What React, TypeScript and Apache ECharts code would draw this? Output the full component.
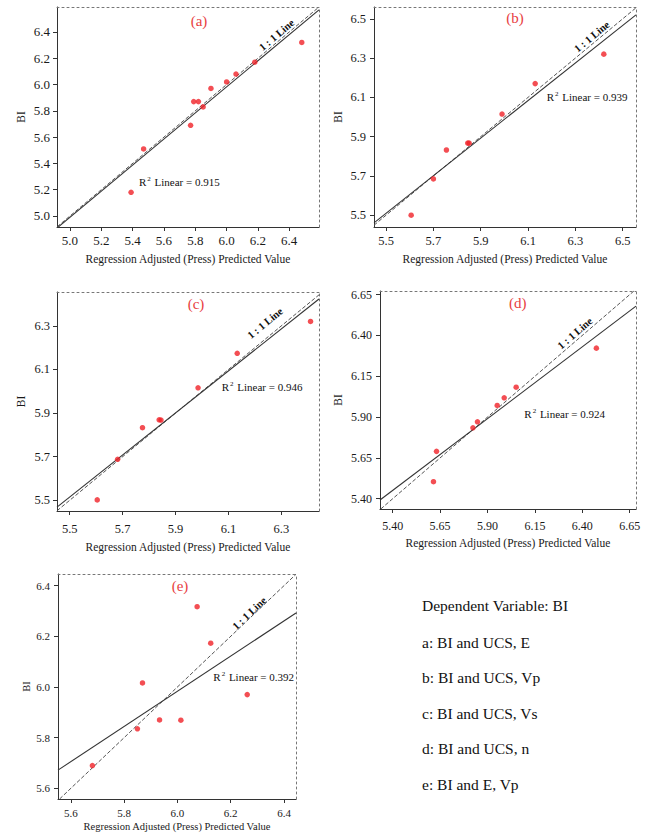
import React, { useEffect, useRef } from "react";
import * as echarts from "echarts";

// ---------- data ----------
const panelLetters = ["(a)", "(b)", "(c)", "(d)", "(e)"];
const r2Values = ["0.915", "0.939", "0.946", "0.924", "0.392"];

const aPredicted = [6.48, 6.18, 6.06, 6.0, 5.9, 5.79, 5.82, 5.85, 5.77, 5.47, 5.39];
const aBI = [6.32, 6.17, 6.08, 6.02, 5.97, 5.87, 5.87, 5.83, 5.69, 5.51, 5.18];
const bPredicted = [6.42, 6.13, 5.99, 5.845, 5.851, 5.755, 5.7, 5.606];
const bBI = [6.32, 6.17, 6.015, 5.867, 5.867, 5.832, 5.685, 5.5];
const cPredicted = [6.41, 6.133, 5.985, 5.838, 5.845, 5.775, 5.681, 5.604];
const cBI = [6.32, 6.174, 6.016, 5.869, 5.868, 5.833, 5.688, 5.502];
const dPredicted = [6.474, 6.051, 5.988, 5.951, 5.847, 5.823, 5.631, 5.615];
const dBI = [6.322, 6.083, 6.018, 5.971, 5.871, 5.834, 5.69, 5.504];
const ePredicted = [6.074, 6.125, 5.869, 6.262, 5.933, 6.013, 5.85, 5.681];
const eBI = [6.317, 6.173, 6.016, 5.97, 5.87, 5.869, 5.835, 5.69];

// fitted (R² linear) line end points [x, y]
const aFit = [[4.92, 4.911], [6.59, 6.568]];
const bFit = [[5.449, 5.461], [6.556, 6.52]];
const cFit = [[5.452, 5.469], [6.442, 6.423]];
const dFit = [[5.333, 5.392], [6.683, 6.579]];
const eFit = [[5.552, 5.672], [6.445, 6.292]];

// axis ranges [xmin, xmax, ymin, ymax]
const aRange = [4.917, 6.59, 4.916, 6.59];
const bRange = [5.449, 6.556, 5.44, 6.56];
const cRange = [5.452, 6.442, 5.451, 6.455];
const dRange = [5.333, 6.683, 5.337, 6.672];
const eRange = [5.552, 6.445, 5.558, 6.446];

// tick labels
const aTicks = [5.0, 5.2, 5.4, 5.6, 5.8, 6.0, 6.2, 6.4];
const bTicks = [5.5, 5.7, 5.9, 6.1, 6.3, 6.5];
const cTicks = [5.5, 5.7, 5.9, 6.1, 6.3];
const dTicks = [5.4, 5.65, 5.9, 6.15, 6.4, 6.65];
const eTicks = [5.6, 5.8, 6.0, 6.2, 6.4];
const tickDecimals = [1, 1, 1, 2, 1];

const legendLines = [
  "Dependent Variable: BI",
  "a: BI and UCS, E",
  "b: BI and UCS, Vp",
  "c: BI and UCS, Vs",
  "d: BI and UCS, n",
  "e: BI and E, Vp",
];

const xTitle = "Regression Adjusted (Press) Predicted Value";
const yTitle = "BI";
const oneToOne = "1 : 1 Line";

// ---------- layout (pixels) ----------
const FONT = '"Liberation Serif", "Times New Roman", Times, serif';
const layout = [
  { left: 57, top: 7, width: 262, height: 220, tickFont: 13, titleFont: 11.5, xLabMargin: 7, yLabMargin: 7, xNameGap: 26, yNameGap: 30,
    letter: [199, 21], line: [276.7, 35, 40], r2: [139, 182] },
  { left: 374, top: 7, width: 262, height: 220, tickFont: 12.5, titleFont: 11.5, xLabMargin: 7.5, yLabMargin: 8, xNameGap: 26, yNameGap: 30,
    letter: [515, 18.3], line: [591.7, 36.7, 39.6], r2: [546.7, 96.7] },
  { left: 57, top: 292, width: 262, height: 219, tickFont: 12.5, titleFont: 11.5, xLabMargin: 11, yLabMargin: 7, xNameGap: 29.5, yNameGap: 30,
    letter: [196, 304], line: [265, 323.3, 39.3], r2: [221.7, 386.7] },
  { left: 380, top: 291, width: 256, height: 218, tickFont: 12, titleFont: 11.5, xLabMargin: 11, yLabMargin: 8, xNameGap: 28, yNameGap: 36,
    letter: [517.7, 303.3], line: [575, 333.3, 40.8], r2: [524.3, 414.3] },
  { left: 58, top: 574, width: 238, height: 225, tickFont: 11, titleFont: 10.5, xLabMargin: 8, yLabMargin: 8, xNameGap: 22, yNameGap: 24,
    letter: [180, 586], line: [249.3, 613.3, 43.5], r2: [213.3, 677.3] },
];

const predictedAll = [aPredicted, bPredicted, cPredicted, dPredicted, ePredicted];
const biAll = [aBI, bBI, cBI, dBI, eBI];
const fitAll = [aFit, bFit, cFit, dFit, eFit];
const rangeAll = [aRange, bRange, cRange, dRange, eRange];
const ticksAll = [aTicks, bTicks, cTicks, dTicks, eTicks];

function buildOption() {
  const grid: any[] = [];
  const xAxis: any[] = [];
  const yAxis: any[] = [];
  const series: any[] = [];
  const graphic: any[] = [];

  layout.forEach((L, i) => {
    const [xmin, xmax, ymin, ymax] = rangeAll[i];
    const ticks = ticksAll[i];
    const dec = tickDecimals[i];
    grid.push({ left: L.left, top: L.top, width: L.width, height: L.height, containLabel: false });

    const mainAxisCommon = (axisMin: number, axisMax: number) => ({
      type: "value",
      min: axisMin,
      max: axisMax,
      gridIndex: i,
      splitLine: { show: false },
      axisLine: { show: true, onZero: false, lineStyle: { color: "#333", width: 1 } },
      axisTick: { show: true, length: 4, inside: false, customValues: ticks, lineStyle: { color: "#333" } },
      axisLabel: {
        show: true,
        customValues: ticks,
        formatter: (v: number) => v.toFixed(dec),
        color: "#1a1a1a",
        fontFamily: FONT,
        fontSize: L.tickFont,
      },
      nameLocation: "middle",
      nameTextStyle: { fontFamily: FONT, fontSize: L.titleFont, color: "#1a1a1a" },
    });

    const bx = mainAxisCommon(xmin, xmax) as any;
    bx.position = "bottom";
    bx.name = xTitle;
    bx.nameGap = L.xNameGap;
    bx.axisLabel.margin = L.xLabMargin;
    xAxis.push(bx);
    xAxis.push({
      type: "value", gridIndex: i, min: xmin, max: xmax, position: "top",
      axisLine: { show: true, onZero: false, lineStyle: { color: "#777", width: 1, type: [2, 3] } },
      axisTick: { show: false }, axisLabel: { show: false }, splitLine: { show: false },
    });

    const ly = mainAxisCommon(ymin, ymax) as any;
    ly.position = "left";
    ly.name = yTitle;
    ly.nameGap = L.yNameGap;
    ly.axisLabel.margin = L.yLabMargin;
    yAxis.push(ly);
    yAxis.push({
      type: "value", gridIndex: i, min: ymin, max: ymax, position: "right",
      axisLine: { show: true, onZero: false, lineStyle: { color: "#777", width: 1, type: [2, 3] } },
      axisTick: { show: false }, axisLabel: { show: false }, splitLine: { show: false },
    });

    const lo = Math.max(xmin, ymin);
    const hi = Math.min(xmax, ymax);
    series.push({
      type: "line",
      xAxisIndex: 2 * i,
      yAxisIndex: 2 * i,
      data: [[lo, lo], [hi, hi]],
      symbol: "none",
      silent: true,
      lineStyle: { color: "#555", width: 1, type: [4, 2] },
      z: 2,
    });
    series.push({
      type: "line",
      xAxisIndex: 2 * i,
      yAxisIndex: 2 * i,
      data: fitAll[i],
      symbol: "none",
      silent: true,
      clip: true,
      lineStyle: { color: "#333", width: 1.1 },
      z: 3,
    });
    series.push({
      type: "scatter",
      xAxisIndex: 2 * i,
      yAxisIndex: 2 * i,
      data: predictedAll[i].map((x, k) => [x, biAll[i][k]]),
      symbol: "circle",
      symbolSize: 5.5,
      itemStyle: { color: "#f02228" },
      z: 5,
    });

    graphic.push({
      type: "text",
      x: L.letter[0],
      y: L.letter[1],
      style: {
        text: panelLetters[i],
        fill: "#e8403f",
        font: `15px ${FONT}`,
        align: "center",
        verticalAlign: "middle",
      },
    });
    graphic.push({
      type: "text",
      x: L.line[0],
      y: L.line[1],
      rotation: (L.line[2] * Math.PI) / 180,
      style: {
        text: oneToOne,
        fill: "#111",
        font: `bold 10.5px ${FONT}`,
        align: "center",
        verticalAlign: "middle",
      },
    });
    graphic.push({
      type: "text",
      x: L.r2[0],
      y: L.r2[1],
      style: {
        text: `{r|R}{s|2}{r| Linear = ${r2Values[i]}}`,
        align: "left",
        verticalAlign: "middle",
        rich: {
          r: { fontFamily: FONT, fontSize: 11, fill: "#111", lineHeight: 13 },
          s: { fontFamily: FONT, fontSize: 7, fill: "#111", verticalAlign: "top", lineHeight: 13, padding: [0, 1, 0, 1] },
        },
      },
    });
  });

  const legendY = [605, 642, 677, 713, 748, 784];
  legendLines.forEach((t, k) => {
    graphic.push({
      type: "text",
      x: 422,
      y: legendY[k],
      style: {
        text: t,
        fill: "#111",
        font: `15.5px ${FONT}`,
        align: "left",
        verticalAlign: "middle",
      },
    });
  });

  return {
    animation: false,
    backgroundColor: "#ffffff",
    grid,
    xAxis,
    yAxis,
    series,
    graphic,
  };
}

export default function App() {
  const ref = useRef<HTMLDivElement>(null);
  useEffect(() => {
    if (!ref.current) return;
    const chart = echarts.init(ref.current, undefined, { renderer: "svg" });
    chart.setOption(buildOption() as any);
    return () => chart.dispose();
  }, []);
  return (
    <div
      ref={ref}
      style={{ position: "absolute", left: 0, top: 0, width: 653, height: 837, background: "#fff" }}
    />
  );
}
